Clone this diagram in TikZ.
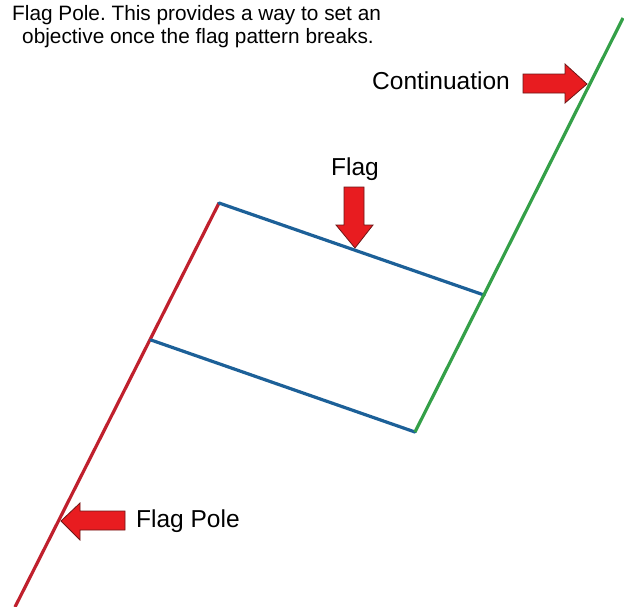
\documentclass[tikz,border=0pt]{standalone}
\usepackage{fontspec}
\setmainfont{Liberation Sans}
\frenchspacing
\definecolor{polered}{RGB}{192,32,45}
\definecolor{flagblue}{RGB}{28,96,152}
\definecolor{contgreen}{RGB}{52,160,72}
\definecolor{arrowfill}{RGB}{232,28,32}
\definecolor{arrowedge}{RGB}{110,22,22}
\begin{document}
\begin{tikzpicture}[x=1pt,y=-1pt,
  trend/.style={line width=3.2pt},
  bigarrow/.style={fill=arrowfill,draw=arrowedge,line width=0.8pt,line join=miter},
  label/.style={inner sep=0pt,anchor=base west,font=\fontsize{24.5}{28}\selectfont},
  note/.style={inner sep=0pt,font=\fontsize{20.8}{23}\selectfont}]
\path[use as bounding box,fill=white] (0,0) rectangle (624,606);
% key points
\coordinate (p0) at (15,607);
\coordinate (a) at (219,203);
\coordinate (b) at (484,295);
\coordinate (c) at (151,340);
\coordinate (d) at (415,432);
\coordinate (e) at (623,18);
% lines
\draw[trend,polered] (p0) -- (a);
\draw[trend,flagblue,line cap=round] (a) -- (b);
\draw[trend,flagblue,line cap=round] (c) -- (d);
\draw[trend,contgreen] (d) -- (e);
% arrows
\draw[bigarrow] (523,74) -- (565,74) -- (565,64) -- (587,84) -- (565,103) -- (565,93) -- (523,93) -- cycle;
\draw[bigarrow] (344,187) -- (364,187) -- (364,225) -- (373,225) -- (355,248) -- (336,225) -- (344,225) -- cycle;
\draw[bigarrow] (125,511) -- (80,511) -- (80,503) -- (61,521) -- (80,540) -- (80,530) -- (125,530) -- cycle;
% texts
\node[note,anchor=base west] (t1) at (12,20) {Flag Pole. This provides a way to set an};
\node[note,anchor=base] (t2) at (198,43) {objective once the flag pattern breaks.};
\node[label] (cont) at (372,89) {Continuation};
\node[label] (flag) at (331,175) {Flag};
\node[label] (pole) at (136,527) {Flag Pole};
\end{tikzpicture}
\end{document}
